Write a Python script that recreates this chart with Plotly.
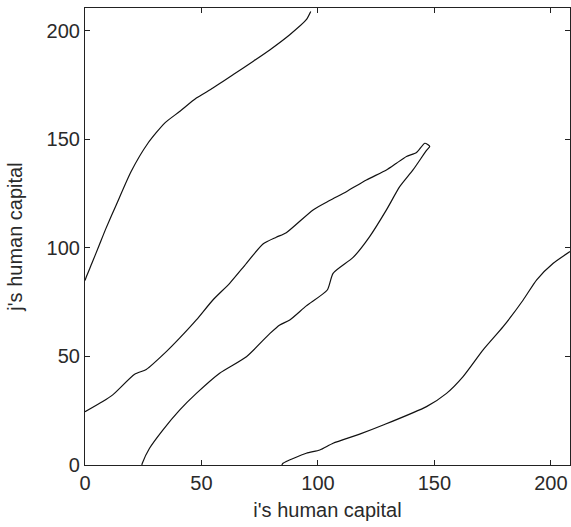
import plotly.graph_objects as go

# Curve 1: upper-left contour
c1_x = [0, 0.5, 3.0, 6.0, 9.0, 13.4, 19.8, 27.0, 34.2, 40.6, 47.8, 54.9, 63.5, 72.1, 79.3, 87.9, 95.0, 96.9]
c1_y = [85.0, 86.5, 93.0, 101.0, 109.0, 119.8, 135.2, 148.2, 157.5, 162.8, 169.0, 173.6, 179.7, 185.9, 191.2, 198.2, 205.1, 208.9]

# Curve 2: closed loop contour (upper branch then lower branch)
c2_x = [0, 7.6, 11.9, 21.3, 26.3, 34.9, 40.6, 47.8, 54.9, 62.1, 69.3, 76.4, 82.1, 86.4, 97.9, 105.0,
        112.2, 120.8, 129.4, 133.7, 138.0, 142.3, 145.9, 148.0, 146.6, 140.8, 135.1, 129.4, 122.2,
        115.1, 106.5, 104.0, 95.0, 87.9, 83.6, 79.3, 69.3, 57.8, 47.8, 40.6, 33.4, 27.7, 24.6, 24.4]
c2_y = [24.5, 29.2, 32.3, 41.8, 44.0, 52.2, 58.4, 66.8, 76.0, 83.7, 92.9, 101.8, 104.9, 107.0, 117.5, 121.8,
        125.9, 131.3, 135.9, 139.0, 142.1, 143.9, 148.2, 146.7, 144.9, 135.9, 128.2, 117.5, 105.2,
        95.6, 88.3, 80.6, 73.3, 66.8, 64.5, 60.5, 49.9, 42.3, 33.0, 25.3, 16.1, 7.7, 0.8, 0]

# Curve 3: lower-right contour
c3_x = [84.5, 85.0, 95.0, 100.8, 106.5, 117.9, 128.0, 146.6, 155.2, 162.3, 170.9, 179.5, 188.1, 193.9, 201.0, 208.2]
c3_y = [0, 0.8, 5.4, 6.9, 10.0, 14.2, 18.4, 26.9, 33.0, 40.7, 53.0, 63.7, 76.0, 85.3, 92.9, 98.3]

x_ticks = [0, 50, 100, 150, 200]
y_ticks = [0, 50, 100, 150, 200]

fig = go.Figure()
for xs, ys in [(c1_x, c1_y), (c2_x, c2_y), (c3_x, c3_y)]:
    fig.add_trace(go.Scatter(x=xs, y=ys, mode="lines",
                             line=dict(color="#111111", width=1.2, shape="spline", smoothing=0.6),
                             showlegend=False, hoverinfo="skip"))

font = dict(family="Liberation Sans, Arial, sans-serif", size=20, color="#2a2a2a")
axis_common = dict(showgrid=False, zeroline=False, showline=True, linecolor="#222222", linewidth=1.2,
                   mirror="ticks", ticks="inside", ticklen=5, tickcolor="#222222", tickwidth=1,
                   tickfont=font)
fig.update_xaxes(range=[0, 208.2], tickvals=x_ticks, ticktext=[str(v) for v in x_ticks],
                 title=dict(text="i's human capital", font=font, standoff=9), **axis_common)
fig.update_yaxes(range=[0, 210.5], tickvals=y_ticks, ticktext=[str(v) for v in y_ticks],
                 title=dict(text="j's human capital", font=font, standoff=18), **axis_common)

fig.update_layout(width=571, height=527, margin=dict(l=85, r=1, t=8, b=62),
                  paper_bgcolor="white", plot_bgcolor="white", font=font)
fig.write_html("out.html")
